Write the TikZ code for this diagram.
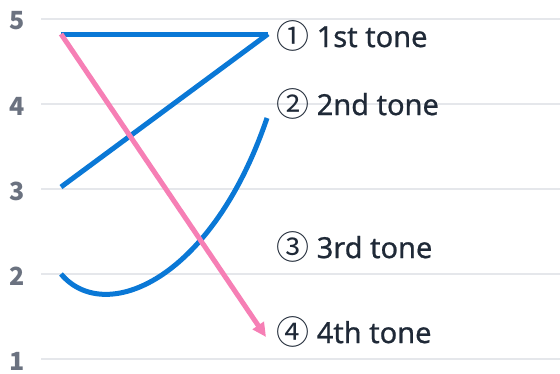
\documentclass[tikz,border=0pt]{standalone}
\usepackage{fontspec}
\setmainfont{Noto Sans}
\newfontfamily\circfont{Noto Sans CJK JP}
\newfontfamily\labelfont{Noto Sans}[FakeBold=0.7]
\usetikzlibrary{arrows.meta}
\definecolor{toneblue}{HTML}{0A78D6}
\definecolor{tonepink}{HTML}{F67FB5}
\definecolor{gridgray}{HTML}{E5E7EB}
\definecolor{axisgray}{HTML}{6B7280}
\definecolor{labelink}{HTML}{1F2937}
\newcommand{\tonemark}[1]{{\circfont\fontsize{33}{34}\selectfont\raisebox{-1.5pt}{#1}}}
\tikzset{
  gridline/.style={gridgray, line width=2},
  axislabel/.style={text=axisgray, font=\circfont\fontsize{25}{28}\selectfont\bfseries, inner sep=0},
  tonelabel/.style={text=labelink, font=\labelfont\fontsize{29}{34}\selectfont, anchor=west, inner sep=0},
  toneline/.style={toneblue, line width=5},
}
\begin{document}
\begin{tikzpicture}[x=1pt,y=-1pt]
    \useasboundingbox (0,0) rectangle (560,373);
    % pitch levels 1..5
    \foreach \lvl in {1,...,5} {
        \draw [gridline] (41,{19+85*(5-\lvl)}) -- (560,{19+85*(5-\lvl)});
        \node [axislabel] (lvl\lvl) at (17,{21+85*(5-\lvl)}) {\lvl};
    }
    \coordinate (hi) at (61,34);
    \coordinate (mid) at (61,187);
    \coordinate (low) at (61,274);
    \coordinate (hiend) at (268,34);
    \coordinate (riseend) at (267,118);
    \coordinate (fallend) at (266,337);
    \draw [toneline] (hi) -- (hiend);
    \draw [toneline] (mid) -- (hiend);
    \draw [toneline] (low) .. controls (105,326) and (212,280) .. (riseend);
    \draw [tonepink, line width=5, -{Triangle[length=14pt,width=13pt]}] (hi) -- (fallend);
    \node [tonelabel] (tone1) at (276,36) {\tonemark{①} 1st tone};
    \node [tonelabel] (tone2) at (276,104) {\tonemark{②} 2nd tone};
    \node [tonelabel] (tone3) at (276,247) {\tonemark{③} 3rd tone};
    \node [tonelabel] (tone4) at (276,332) {\tonemark{④} 4th tone};
\end{tikzpicture}
\end{document}
